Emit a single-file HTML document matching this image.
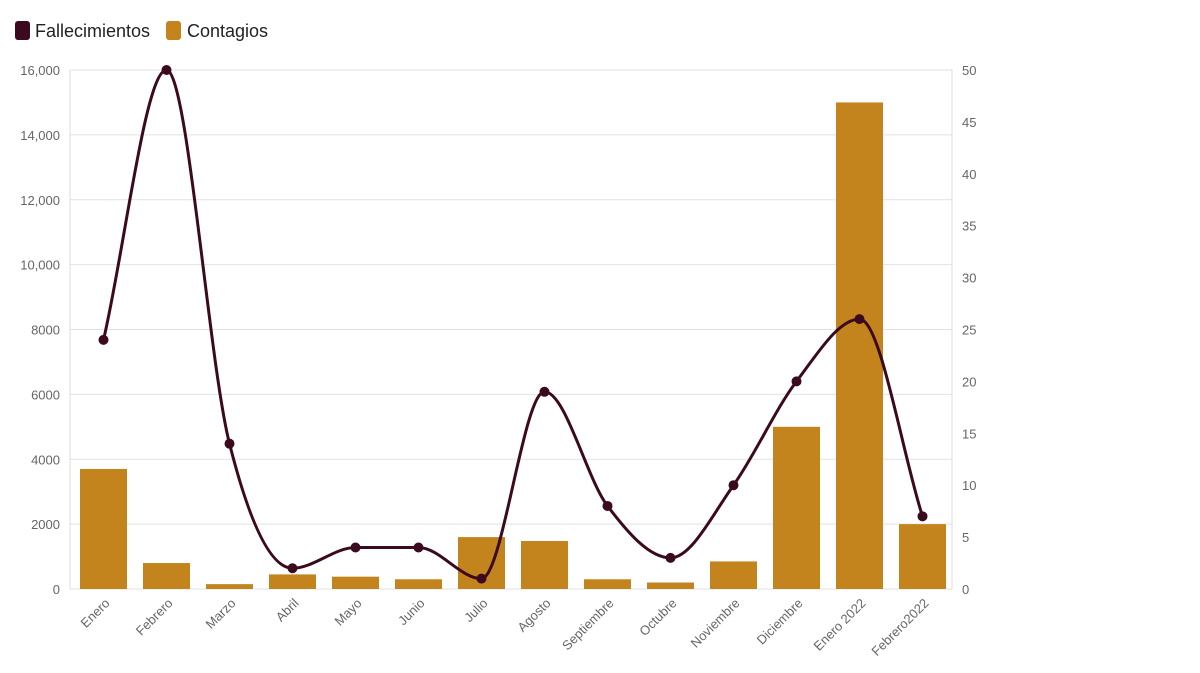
<!DOCTYPE html>
<html><head><meta charset="utf-8"><style>
html,body{margin:0;padding:0;background:#fff;}
svg{display:block;font-family:"Liberation Sans",sans-serif;}
</style></head><body>
<svg id="s" width="1200" height="673" viewBox="0 0 1200 673">
<rect x="15" y="21" width="15" height="19" rx="3" fill="#3b0a1e"/>
<text x="35" y="37" font-size="18" fill="#222">Fallecimientos</text>
<rect x="166" y="21" width="15" height="19" rx="3" fill="#c4841d"/>
<text x="187" y="37" font-size="18" fill="#222">Contagios</text>
<g id="g"></g>
</svg>
<script>
var g=document.getElementById('g'),h='';
var L=70,R=952,T=70,B=589;
var ll=['16,000','14,000','12,000','10,000','8000','6000','4000','2000','0'];
for(var i=0;i<=8;i++){var y=T+(B-T)*i/8;h+='<line x1="'+L+'" x2="'+R+'" y1="'+y+'" y2="'+y+'" stroke="#e2e2e2"/>';
h+='<text x="60" y="'+(y+5)+'" font-size="13" fill="#666" text-anchor="end">'+ll[i]+'</text>';}
for(var i=0;i<=10;i++){var y=T+(B-T)*i/10;h+='<text x="962" y="'+(y+5)+'" font-size="13" fill="#666">'+(50-5*i)+'</text>';}
h+='<line x1="'+L+'" x2="'+L+'" y1="'+T+'" y2="'+B+'" stroke="#ddd"/><line x1="'+R+'" x2="'+R+'" y1="'+T+'" y2="'+B+'" stroke="#ddd"/>';
var bars=[3700,800,150,450,380,300,1600,1480,300,200,850,5000,15000,2000];
var cats=['Enero','Febrero','Marzo','Abril','Mayo','Junio','Julio','Agosto','Septiembre','Octubre','Noviembre','Diciembre','Enero 2022','Febrero2022'];
var w=(R-L)/14;
for(var i=0;i<14;i++){var cx=L+2+w*(i+0.5);var y=B-bars[i]*(B-T)/16000;
h+='<rect x="'+(cx-23.5)+'" y="'+y+'" width="47" height="'+(B-y)+'" fill="#c4841d"/>';
h+='<text transform="translate('+(cx+7)+',604) rotate(-45)" font-size="13" fill="#666" text-anchor="end">'+cats[i]+'</text>';}
var d=[24,50,14,2,4,4,1,19,8,3,10,20,26,7];
var xs=[],ys=[];for(var i=0;i<14;i++){xs.push(L+2+w*(i+0.5));ys.push(B-d[i]*(B-T)/50);}
var n=14,dx=[],m=[],t=[];
for(var i=0;i<n-1;i++){dx.push(xs[i+1]-xs[i]);m.push((ys[i+1]-ys[i])/dx[i]);}
t[0]=m[0];t[n-1]=m[n-2];
for(var i=1;i<n-1;i++){if(m[i-1]*m[i]<=0)t[i]=0;else{t[i]=(m[i-1]+m[i])/2;var a=t[i]/m[i-1],b=t[i]/m[i],s=a*a+b*b;if(s>9){var k=3/Math.sqrt(s);t[i]=k*a*m[i-1];}}}
var p='M'+xs[0]+','+ys[0];
for(var i=0;i<n-1;i++){var q=dx[i]/3;p+=' C'+(xs[i]+q)+','+(ys[i]+t[i]*q)+' '+(xs[i+1]-q)+','+(ys[i+1]-t[i+1]*q)+' '+xs[i+1]+','+ys[i+1];}
h+='<path d="'+p+'" fill="none" stroke="#3b0a1e" stroke-width="3"/>';
for(var i=0;i<n;i++)h+='<circle cx="'+xs[i]+'" cy="'+ys[i]+'" r="5" fill="#3b0a1e"/>';
g.innerHTML=h;
</script>
</body></html>
